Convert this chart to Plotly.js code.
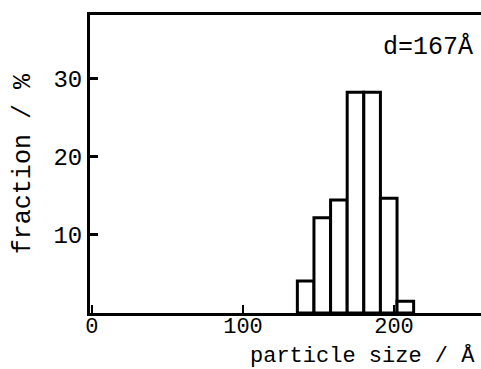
<!DOCTYPE html>
<html><head><meta charset="utf-8">
<script src="https://cdn.plot.ly/plotly-3.0.1.min.js"></script>
<style>body{margin:0;background:#fff}</style>
</head><body>
<div id="chart" style="width:481px;height:369px"></div>
<script>
// particle size bin centres (Å) and fraction (%)
const binCenters = [141.5, 152.5, 163.5, 174.5, 185.5, 196.5, 207.5];
const fractions = [4.1, 12.2, 14.5, 28.3, 28.3, 14.7, 1.5];
const binWidth = 11;
const xTickVals = [0, 100, 200];
const xTickText = ['0', '100', '200'];
const yTickVals = [10, 20, 30];
const yTickText = ['10', '20', '30'];

const font = 'Liberation Mono, Courier New, monospace';

Plotly.newPlot('chart', [{
  type: 'bar',
  x: binCenters,
  y: fractions,
  width: binWidth,
  marker: {color: '#ffffff', line: {color: '#000', width: 3}},
  hoverinfo: 'skip'
}], {
  width: 481, height: 369,
  margin: {l: 90, r: 0, t: 15, b: 56},
  paper_bgcolor: '#fff', plot_bgcolor: '#fff',
  showlegend: false,
  xaxis: {
    range: [-1.3, 257.6],
    showgrid: false, zeroline: false,
    showline: true, linecolor: '#000', linewidth: 3, mirror: true,
    ticks: 'inside', ticklen: 8, tickwidth: 2, tickcolor: '#000',
    ticklabelstandoff: -9,
    tickvals: xTickVals, ticktext: xTickText,
    tickfont: {family: font, size: 22, color: '#000'}
  },
  yaxis: {
    range: [0, 38.2],
    showgrid: false, zeroline: false,
    showline: true, linecolor: '#000', linewidth: 3,
    ticks: 'inside', ticklen: 8, tickwidth: 3, tickcolor: '#000',
    tickvals: yTickVals, ticktext: yTickText,
    tickfont: {family: font, size: 24, color: '#000'}
  },
  annotations: [
    {text: 'd=167Å', xref: 'paper', yref: 'paper', x: 0.985, y: 0.893,
     xanchor: 'right', yanchor: 'middle', showarrow: false,
     font: {family: font, size: 25, color: '#000'}},
    {text: 'particle size / Å', xref: 'paper', yref: 'paper', x: 0.99, y: -0.145,
     xanchor: 'right', yanchor: 'middle', showarrow: false,
     font: {family: font, size: 22, color: '#000'}},
    {text: 'fraction / %', xref: 'paper', yref: 'paper', x: -0.171, y: 0.5,
     xanchor: 'center', yanchor: 'middle', showarrow: false, textangle: -90,
     font: {family: font, size: 25, color: '#000'}}
  ]
}, {displayModeBar: false, staticPlot: true});
</script>
</body></html>
